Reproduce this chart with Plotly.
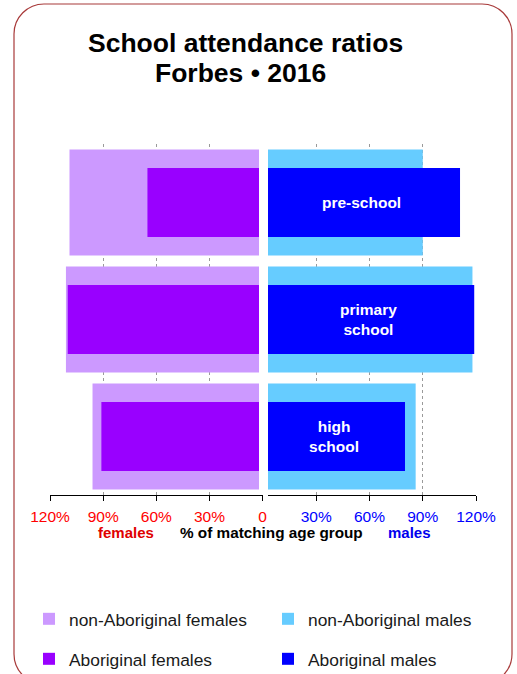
import plotly.graph_objects as go

# ---------------- data ----------------
categories = ["pre-school", "primary school", "high school"]
category_labels = ["pre-school", "primary<br>school", "high<br>school"]
non_ab_females = [109, 111, 96]
ab_females = [65, 110, 91]
non_ab_males = [90, 118, 86]
ab_males = [111, 119, 80]
female_ticks = [0, 30, 60, 90, 120]
female_tick_labels = ["0", "30%", "60%", "90%", "120%"]
male_ticks = [30, 60, 90, 120]
male_tick_labels = ["30%", "60%", "90%", "120%"]

# ---------------- geometry helpers ----------------
W, H = 517, 674
ML, MR, MT, MB = 50, 41, 144, 179
PW = W - ML - MR
PH = H - MT - MB


def px_x(px):
    """screen x (reference pixels) -> paper x"""
    return (px - ML) / PW


def px_y(py):
    """screen y (reference pixels) -> paper y"""
    return (H - MB - py) / PH


SANS = "Liberation Sans, Arial, sans-serif"
FIRST_COL_WIDTH = 194  # legend entry width of the left legend column (px)

fig = go.Figure()
fig.add_trace(go.Bar(y=categories, x=non_ab_females, orientation="h", xaxis="x", yaxis="y",
                     width=0.906, marker=dict(color="#CC99FF", line=dict(width=0)),
                     name="non-Aboriginal females", legend="legend",
                     legendwidth=FIRST_COL_WIDTH))
fig.add_trace(go.Bar(y=categories, x=ab_females, orientation="h", xaxis="x", yaxis="y",
                     width=0.59, marker=dict(color="#9900FF", line=dict(width=0)),
                     name="Aboriginal females", legend="legend2",
                     legendwidth=FIRST_COL_WIDTH))
fig.add_trace(go.Bar(y=categories, x=non_ab_males, orientation="h", xaxis="x2", yaxis="y",
                     width=0.906, marker=dict(color="#66CCFF", line=dict(width=0)),
                     name="non-Aboriginal males", legend="legend"))
fig.add_trace(go.Bar(y=categories, x=ab_males, orientation="h", xaxis="x2", yaxis="y",
                     width=0.59, marker=dict(color="#0000FF", line=dict(width=0)),
                     name="Aboriginal males", legend="legend2",
                     text=category_labels, textposition="inside", insidetextanchor="middle",
                     textangle=0,
                     textfont=dict(color="white", size=15.5, family=SANS, weight="bold")))

axis_common = dict(
    anchor="y", showline=True, linecolor="black", linewidth=1,
    ticks="outside", ticklen=5, tickcolor="black", tickwidth=1,
    ticklabelstandoff=2,
    showgrid=True, gridcolor="#9a9a9a", griddash="dot", gridwidth=1,
    zeroline=True, zerolinecolor="white", zerolinewidth=1,
    fixedrange=True,
)

legend_common = dict(orientation="h", xanchor="left", yanchor="middle",
                     font=dict(size=17.4, family=SANS, color="#1a1a1a"),
                     bgcolor="rgba(0,0,0,0)", traceorder="normal")

fig.update_layout(
    width=W, height=H,
    margin=dict(l=ML, r=MR, t=MT, b=MB, autoexpand=False),
    paper_bgcolor="white", plot_bgcolor="white",
    barmode="overlay",
    xaxis=dict(domain=[0, px_x(262.6)], range=[120, 0],
               tickmode="array", tickvals=female_ticks, ticktext=female_tick_labels,
               tickfont=dict(color="#FF0000", size=15.5, family=SANS),
               **axis_common),
    xaxis2=dict(domain=[px_x(268), 1], range=[2.8, 120],
                tickmode="array", tickvals=male_ticks, ticktext=male_tick_labels,
                tickfont=dict(color="#0000FF", size=15.5, family=SANS),
                **axis_common),
    yaxis=dict(domain=[0, 1], type="category", categoryorder="array", categoryarray=categories,
               range=[2.5, -0.5], showticklabels=False, showgrid=False, zeroline=False,
               showline=False, ticks="", fixedrange=True),
    legend=dict(x=px_x(29), y=px_y(619), **legend_common),
    legend2=dict(x=px_x(29), y=px_y(659), **legend_common),
    showlegend=True,
)

# title lines and axis captions
fig.add_annotation(text="<b>School attendance ratios</b>", xref="paper", yref="paper",
                   x=px_x(245), y=px_y(43.5), xanchor="center", yanchor="middle", showarrow=False,
                   font=dict(size=26.5, family=SANS, color="black"))
fig.add_annotation(text="<b>Forbes • 2016</b>", xref="paper", yref="paper",
                   x=px_x(240), y=px_y(73), xanchor="center", yanchor="middle", showarrow=False,
                   font=dict(size=26.5, family=SANS, color="black"))
fig.add_annotation(text="<b>females</b>", xref="paper", yref="paper",
                   x=px_x(125.5), y=px_y(532.5), xanchor="center", yanchor="middle", showarrow=False,
                   font=dict(size=15, family=SANS, color="#E00000"))
fig.add_annotation(text="<b>% of matching age group</b>", xref="paper", yref="paper",
                   x=px_x(271.5), y=px_y(532.5), xanchor="center", yanchor="middle", showarrow=False,
                   font=dict(size=15.3, family=SANS, color="black"))
fig.add_annotation(text="<b>males</b>", xref="paper", yref="paper",
                   x=px_x(409.5), y=px_y(532.5), xanchor="center", yanchor="middle", showarrow=False,
                   font=dict(size=15, family=SANS, color="#0000EE"))

# white separator between the female bars and the centre line
fig.add_shape(type="rect", xref="paper", yref="paper",
              x0=px_x(259), x1=px_x(263), y0=px_y(492), y1=1,
              fillcolor="white", line=dict(width=0), layer="above")


# rounded border
def rounded_path(x0, y0, x1, y1, r):
    k = 0.5523 * r
    pts = [
        f"M{px_x(x0 + r)},{px_y(y0)}",
        f"L{px_x(x1 - r)},{px_y(y0)}",
        f"C{px_x(x1 - r + k)},{px_y(y0)} {px_x(x1)},{px_y(y0 + r - k)} {px_x(x1)},{px_y(y0 + r)}",
        f"L{px_x(x1)},{px_y(y1 - r)}",
        f"C{px_x(x1)},{px_y(y1 - r + k)} {px_x(x1 - r + k)},{px_y(y1)} {px_x(x1 - r)},{px_y(y1)}",
        f"L{px_x(x0 + r)},{px_y(y1)}",
        f"C{px_x(x0 + r - k)},{px_y(y1)} {px_x(x0)},{px_y(y1 - r + k)} {px_x(x0)},{px_y(y1 - r)}",
        f"L{px_x(x0)},{px_y(y0 + r)}",
        f"C{px_x(x0)},{px_y(y0 + r - k)} {px_x(x0 + r - k)},{px_y(y0)} {px_x(x0 + r)},{px_y(y0)}",
        "Z",
    ]
    return " ".join(pts)


fig.add_shape(type="path", xref="paper", yref="paper",
              path=rounded_path(14, 4, 512, 684, 30),
              line=dict(color="#A83A3A", width=1.2), fillcolor="rgba(0,0,0,0)", layer="above")

# let the figure sit at the very top-left of the page (no default body margin)
fig.write_html("out.html", config={"displayModeBar": False},
               post_script="document.body.style.margin = '0px';")
